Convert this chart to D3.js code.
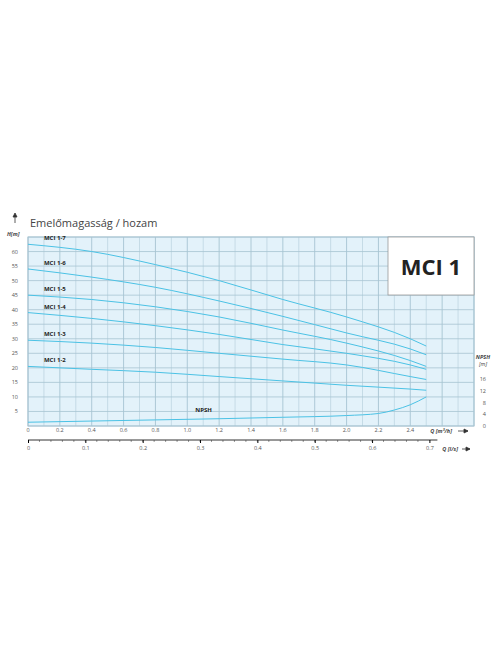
<!DOCTYPE html>
<html><head><meta charset="utf-8">
<script src="https://cdn.jsdelivr.net/npm/d3@7"></script>
<style>body{margin:0;background:#fff}text{font-family:"Open Sans",sans-serif}</style>
</head><body><svg id="c" width="496" height="664"></svg>
<script>
// Pump curves MCI 1, Q in m3/h
const qPts = [0, 0.4, 0.8, 1.2, 1.6, 2.0, 2.4, 2.5];
const curves = [
  { name: 'MCI 1-7', h: [62.5, 60, 55.5, 50, 43.5, 37.5, 30, 27.5] },
  { name: 'MCI 1-6', h: [54, 51.2, 47.7, 43, 37.7, 32, 26.5, 24.5] },
  { name: 'MCI 1-5', h: [45, 43.5, 41, 37.5, 33, 28.5, 22.5, 20.5] },
  { name: 'MCI 1-4', h: [39, 37, 34.5, 31.5, 28, 25, 21, 19.5] },
  { name: 'MCI 1-3', h: [29.5, 28.5, 27, 25, 23, 21, 17, 16] },
  { name: 'MCI 1-2', h: [20.5, 19.5, 18.5, 17, 15.5, 14, 12.7, 12.3] }
];
const npshQ = [0, 0.4, 0.8, 1.2, 1.6, 2.0, 2.2, 2.3, 2.4, 2.5];
const npshV = [1.3, 1.7, 2.1, 2.5, 3, 3.6, 4.3, 5.5, 7.3, 10];
const hTicks = [5, 10, 15, 20, 25, 30, 35, 40, 45, 50, 55, 60];
const qTicks = [0, 0.2, 0.4, 0.6, 0.8, 1.0, 1.2, 1.4, 1.6, 1.8, 2.0, 2.2, 2.4];
const npshTicks = [0, 4, 8, 12, 16];
const lsTicks = [0, 0.1, 0.2, 0.3, 0.4, 0.5, 0.6, 0.7];

const svg = d3.select('#c');
const pL = 28, pR = 474, pT = 237, pB = 426;
const x = d3.scaleLinear().domain([0, 2.8]).range([pL, pR]);
const y = d3.scaleLinear().domain([0, 65]).range([pB, pT]);
const xl = d3.scaleLinear().domain([0, 2.8 / 3.6]).range([pL, pR]);
const gridCol = '#a7c4d2', curveCol = '#4bc2e5';

svg.append('rect').attr('x', pL).attr('y', pT).attr('width', pR - pL).attr('height', pB - pT).attr('fill', '#e3f2fa');

// grid
d3.range(0, 2.81, 0.1).forEach(q => {
  svg.append('line').attr('x1', x(q)).attr('x2', x(q)).attr('y1', pT).attr('y2', pB)
    .attr('stroke', gridCol).attr('stroke-width', Math.round(q * 10) % 2 === 0 ? 0.9 : 0.5);
});
d3.range(0, 66, 5).forEach(h => {
  svg.append('line').attr('x1', pL).attr('x2', pR).attr('y1', y(h)).attr('y2', y(h))
    .attr('stroke', gridCol).attr('stroke-width', 0.8);
});
svg.append('rect').attr('x', pL).attr('y', pT).attr('width', pR - pL).attr('height', pB - pT)
  .attr('fill', 'none').attr('stroke', gridCol).attr('stroke-width', 1);

// left ticks
hTicks.forEach(t => svg.append('text').attr('x', 18).attr('y', y(t) + 2).attr('text-anchor', 'end')
  .attr('font-size', 5.5).attr('fill', '#555').text(t));
svg.append('text').attr('x', 7).attr('y', 236).attr('font-size', 5.5).attr('font-style', 'italic').attr('font-weight', 'bold').attr('fill', '#444').text('H[m]');
svg.append('path').attr('d', 'M15,213 l-2,4 h4 z M15,216 v7').attr('stroke', '#333').attr('fill', '#333').attr('stroke-width', 0.8);
svg.append('text').attr('x', 30).attr('y', 227).attr('font-size', 11).attr('fill', '#444').text('Emelőmagasság / hozam');

// bottom Q m3/h labels
qTicks.forEach(t => svg.append('text').attr('x', x(t)).attr('y', 432).attr('text-anchor', 'middle')
  .attr('font-size', 5.5).attr('fill', '#555').text(t === 0 ? '0' : t.toFixed(1)));
svg.append('text').attr('x', 452).attr('y', 433).attr('text-anchor', 'end').attr('font-size', 5.5).attr('font-style', 'italic').attr('font-weight', 'bold').attr('fill', '#444').text('Q [m³/h]');
svg.append('path').attr('d', 'M458,431 h10 M468,431 l-4,-2 v4 z').attr('stroke', '#333').attr('fill', '#333').attr('stroke-width', 0.8);

// l/s axis
const ax = svg.append('g').attr('transform', 'translate(0,440)')
  .call(d3.axisBottom(xl).tickValues(lsTicks).tickSize(3).tickFormat(d => d === 0 ? '0' : d.toFixed(1)));
ax.select('.domain').attr('d', `M${pL},0H${xl(0.7) + 8}`).attr('stroke', '#333');
ax.selectAll('text').attr('font-size', 5.5).attr('fill', '#555').attr('dy', 4);
ax.selectAll('.minor').data(d3.range(0.02, 0.7, 0.02)).enter().append('line')
  .attr('x1', d => xl(d)).attr('x2', d => xl(d)).attr('y1', 0).attr('y2', 2).attr('stroke', '#333').attr('stroke-width', 0.5);
svg.append('text').attr('x', 458).attr('y', 451).attr('text-anchor', 'end').attr('font-size', 5.5).attr('font-style', 'italic').attr('font-weight', 'bold').attr('fill', '#444').text('Q [l/s]');
svg.append('path').attr('d', 'M462,449 h8 M470,449 l-4,-2 v4 z').attr('stroke', '#333').attr('fill', '#333').attr('stroke-width', 0.8);

// NPSH right axis (same metre scale)
npshTicks.forEach(t => svg.append('text').attr('x', 486).attr('y', y(t) + 2).attr('text-anchor', 'end')
  .attr('font-size', 5.5).attr('fill', '#555').text(t));
svg.append('text').attr('x', 483).attr('y', 359).attr('text-anchor', 'middle').attr('font-size', 5.5).attr('font-style', 'italic').attr('font-weight', 'bold').attr('fill', '#444').text('NPSH');
svg.append('text').attr('x', 483).attr('y', 366).attr('text-anchor', 'middle').attr('font-size', 5.5).attr('font-style', 'italic').attr('fill', '#444').text('[m]');

// curves
const gen = d3.line().x(d => x(d[0])).y(d => y(d[1])).curve(d3.curveMonotoneX);
curves.forEach(c => {
  svg.append('path').attr('d', gen(qPts.map((q, i) => [q, c.h[i]])))
    .attr('fill', 'none').attr('stroke', curveCol).attr('stroke-width', 1);
  svg.append('text').attr('x', x(0.1)).attr('y', y(c.h[0]) - 4).attr('font-size', 6)
    .attr('font-weight', 'bold').attr('fill', '#222').attr('font-family', 'Liberation Sans Narrow, sans-serif').text(c.name);
});
svg.append('path').attr('d', gen(npshQ.map((q, i) => [q, npshV[i]])))
  .attr('fill', 'none').attr('stroke', curveCol).attr('stroke-width', 1);
svg.append('text').attr('x', x(1.05)).attr('y', y(4.7)).attr('font-size', 6)
  .attr('font-weight', 'bold').attr('fill', '#222').attr('font-family', 'Liberation Sans Narrow, sans-serif').text('NPSH');

// title box
svg.append('rect').attr('x', 388).attr('y', 237).attr('width', 86).attr('height', 58)
  .attr('fill', '#fff').attr('stroke', '#999').attr('stroke-width', 0.8);
svg.append('text').attr('x', 431).attr('y', 275).attr('text-anchor', 'middle').attr('font-size', 22)
  .attr('font-weight', 'bold').attr('fill', '#222').attr('font-family', 'Liberation Sans Narrow, sans-serif').text('MCI 1');
</script></body></html>
